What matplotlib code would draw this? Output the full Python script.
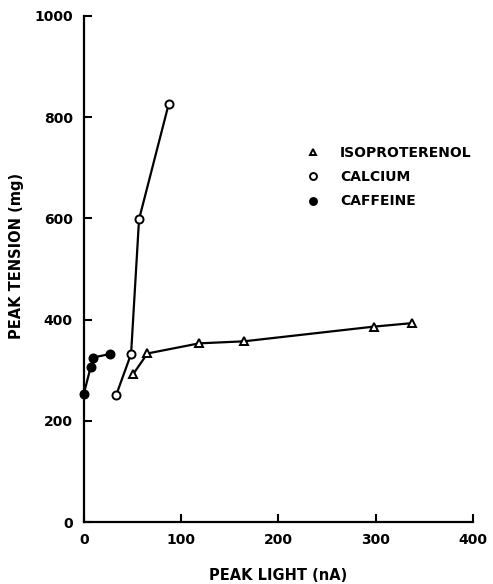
import matplotlib
matplotlib.use("Agg")
import matplotlib.pyplot as plt
from matplotlib.lines import Line2D

# Data
caffeine_x = [0, 7, 9.5, 27]
caffeine_y = [253, 306, 325, 332]
calcium_x = [33.5, 48.6, 56.8, 87.2]
calcium_y = [252, 332, 598, 825]
iso_x = [50.7, 65.4, 118.5, 164.4, 298, 337.7]
iso_y = [292, 333, 353, 357, 386, 393]

x_ticks = [0, 100, 200, 300, 400]
y_ticks = [0, 200, 400, 600, 800, 1000]
legend_labels = ["ISOPROTERENOL", "CALCIUM", "CAFFEINE"]

plt.rcParams['font.family'] = ['DejaVu Sans']
fig = plt.figure(figsize=(4.93, 5.84), dpi=100)
ax = fig.add_axes([0.170, 0.106, 0.789, 0.867])

lw = 1.6
ms = 5.8
ax.plot(iso_x, iso_y, color='black', lw=lw, marker='^', ms=ms,
        mfc='white', mec='black', mew=1.4, clip_on=False, zorder=3)
ax.plot(calcium_x, calcium_y, color='black', lw=lw, marker='o', ms=ms,
        mfc='white', mec='black', mew=1.4, clip_on=False, zorder=3)
ax.plot(caffeine_x, caffeine_y, color='black', lw=lw, marker='o', ms=ms,
        mfc='black', mec='black', mew=1.4, clip_on=False, zorder=4)

ax.set_xlim(0, 400)
ax.set_ylim(0, 1000)
ax.set_xticks(x_ticks)
ax.set_yticks(y_ticks)
ax.set_xticklabels([str(t) for t in x_ticks], fontsize=10, fontweight='bold')
ax.set_yticklabels([str(t) for t in y_ticks], fontsize=10, fontweight='bold')
ax.tick_params(direction='in', length=6, width=1.5, pad=8)
ax.spines['top'].set_visible(False)
ax.spines['right'].set_visible(False)
ax.spines['left'].set_linewidth(1.6)
ax.spines['bottom'].set_linewidth(1.6)

ax.set_xlabel("PEAK LIGHT (nA)", fontsize=10.5, fontweight='bold', labelpad=15)
ax.set_ylabel("PEAK TENSION (mg)", fontsize=10.5, fontweight='bold')
ax.yaxis.set_label_coords(-0.155, 0.525)

handles = [
    Line2D([], [], ls='none', marker='^', ms=5, mfc='white', mec='black', mew=1.4),
    Line2D([], [], ls='none', marker='o', ms=5, mfc='white', mec='black', mew=1.4),
    Line2D([], [], ls='none', marker='o', ms=5, mfc='black', mec='black', mew=1.4),
]
leg = fig.legend(handles, legend_labels, loc='upper left',
                 bbox_to_anchor=(0.595, 0.772), frameon=False,
                 prop={'size': 10, 'weight': 'bold'}, handlelength=1.0,
                 handletextpad=1.45, labelspacing=0.75)

fig.savefig("out.png", dpi=100)
